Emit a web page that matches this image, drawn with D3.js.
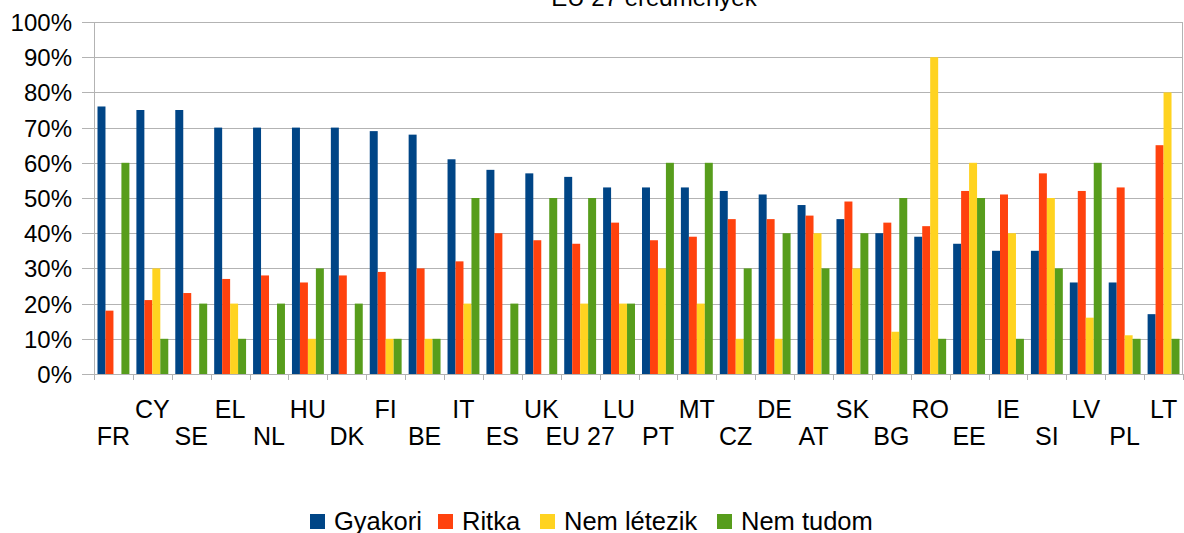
<!DOCTYPE html>
<html>
<head>
<meta charset="utf-8">
<script src="https://cdn.jsdelivr.net/npm/d3@7"></script>
<style>
body { margin: 0; background: #fff; }
text { font-family: "Liberation Sans", Arial, sans-serif; fill: #000; }
</style>
</head>
<body>
<script>
var width = 1184, height = 533;

var countries = ["FR","CY","SE","EL","NL","HU","DK","FI","BE","IT","ES","UK","EU 27","LU","PT","MT","CZ","DE","AT","SK","BG","RO","EE","IE","SI","LV","PL","LT"];
var gyakori   = [76,75,75,70,70,70,70,69,68,61,58,57,56,53,53,53,52,51,48,44,40,39,37,35,35,26,26,17];
var ritka     = [18,21,23,27,28,26,28,29,30,32,40,38,37,43,38,39,44,44,45,49,43,42,52,51,57,52,53,65];
var nemLetezik= [0,30,0,20,0,10,0,10,10,20,0,0,20,20,30,20,10,10,40,30,12,90,60,40,50,16,11,80];
var nemTudom  = [60,10,20,10,20,30,20,10,10,50,20,50,50,20,60,60,30,40,30,40,50,10,50,10,30,60,10,10];
var yTicks = [0,10,20,30,40,50,60,70,80,90,100];

var seriesNames = ["Gyakori","Ritka","Nem létezik","Nem tudom"];
var seriesColors = ["#004586","#ff420e","#ffd320","#579d1c"];
var seriesData = [gyakori, ritka, nemLetezik, nemTudom];

var plotLeft = 94, plotRight = 1183, plotTop = 22, plotBottom = 374;

var svg = d3.select("body").append("svg")
	.attr("width", width)
	.attr("height", height);

var x = d3.scaleBand().domain(countries).range([plotLeft, plotRight]).paddingInner(0.18).paddingOuter(0.09);
var xSub = d3.scaleBand().domain(d3.range(4)).range([0, x.bandwidth()]);
var y = d3.scaleLinear().domain([0, 100]).range([plotBottom, plotTop]);

// gridlines (with small tick to the left of the axis)
svg.selectAll("line.grid")
	.data(yTicks)
	.enter()
	.append("line")
	.attr("x1", plotLeft - 12)
	.attr("x2", plotRight)
	.attr("y1", function(d) { return Math.round(y(d)) + 0.5; })
	.attr("y2", function(d) { return Math.round(y(d)) + 0.5; })
	.attr("stroke", "#b3b3b3")
	.attr("stroke-width", 1);

// bars
seriesData.forEach(function(vals, s) {
	svg.selectAll("rect.s" + s)
		.data(vals)
		.enter()
		.append("rect")
		.attr("x", function(d, i) { return x(countries[i]) + xSub(s); })
		.attr("y", function(d) { return y(d); })
		.attr("width", xSub.bandwidth())
		.attr("height", function(d) { return plotBottom - y(d); })
		.attr("fill", seriesColors[s]);
});

// axis lines
svg.append("line")
	.attr("x1", plotLeft + 0.5).attr("x2", plotLeft + 0.5)
	.attr("y1", plotTop).attr("y2", plotBottom)
	.attr("stroke", "#b3b3b3");
svg.append("line")
	.attr("x1", plotRight - 0.5).attr("x2", plotRight - 0.5)
	.attr("y1", plotTop).attr("y2", plotBottom)
	.attr("stroke", "#b3b3b3");

// x ticks at category boundaries
var catW = (plotRight - plotLeft) / countries.length;
svg.selectAll("line.xtick")
	.data(d3.range(countries.length + 1))
	.enter()
	.append("line")
	.attr("x1", function(i) { return Math.round(plotLeft + i * catW) + 0.5; })
	.attr("x2", function(i) { return Math.round(plotLeft + i * catW) + 0.5; })
	.attr("y1", plotBottom)
	.attr("y2", plotBottom + 6)
	.attr("stroke", "#b3b3b3");

// y labels
svg.selectAll("text.ylab")
	.data(yTicks)
	.enter()
	.append("text")
	.attr("x", 72)
	.attr("y", function(d) { return y(d) + 9; })
	.attr("text-anchor", "end")
	.attr("font-size", 24)
	.text(function(d) { return d + "%"; });

// x labels, staggered in two rows
svg.selectAll("text.xlab")
	.data(countries)
	.enter()
	.append("text")
	.attr("x", function(d) { return x(d) + x.bandwidth() / 2; })
	.attr("y", function(d, i) { return i % 2 === 0 ? 445 : 418; })
	.attr("text-anchor", "middle")
	.attr("font-size", 25)
	.text(function(d) { return d; });

// title (cut at top edge, as in the original)
svg.append("text")
	.attr("x", 654)
	.attr("y", 6)
	.attr("text-anchor", "middle")
	.attr("font-size", 24)
	.text("EU 27 eredmények");

// legend
var legendX = [310, 438, 540, 717];
var legend = svg.selectAll("g.legend")
	.data(seriesNames)
	.enter()
	.append("g")
	.attr("transform", function(d, i) { return "translate(" + legendX[i] + ",0)"; });
legend.append("rect")
	.attr("x", 0)
	.attr("y", 514)
	.attr("width", 15)
	.attr("height", 15)
	.attr("fill", function(d, i) { return seriesColors[i]; });
legend.append("text")
	.attr("x", 24)
	.attr("y", 530)
	.attr("font-size", 25.5)
	.text(function(d) { return d; });
</script>
</body>
</html>
